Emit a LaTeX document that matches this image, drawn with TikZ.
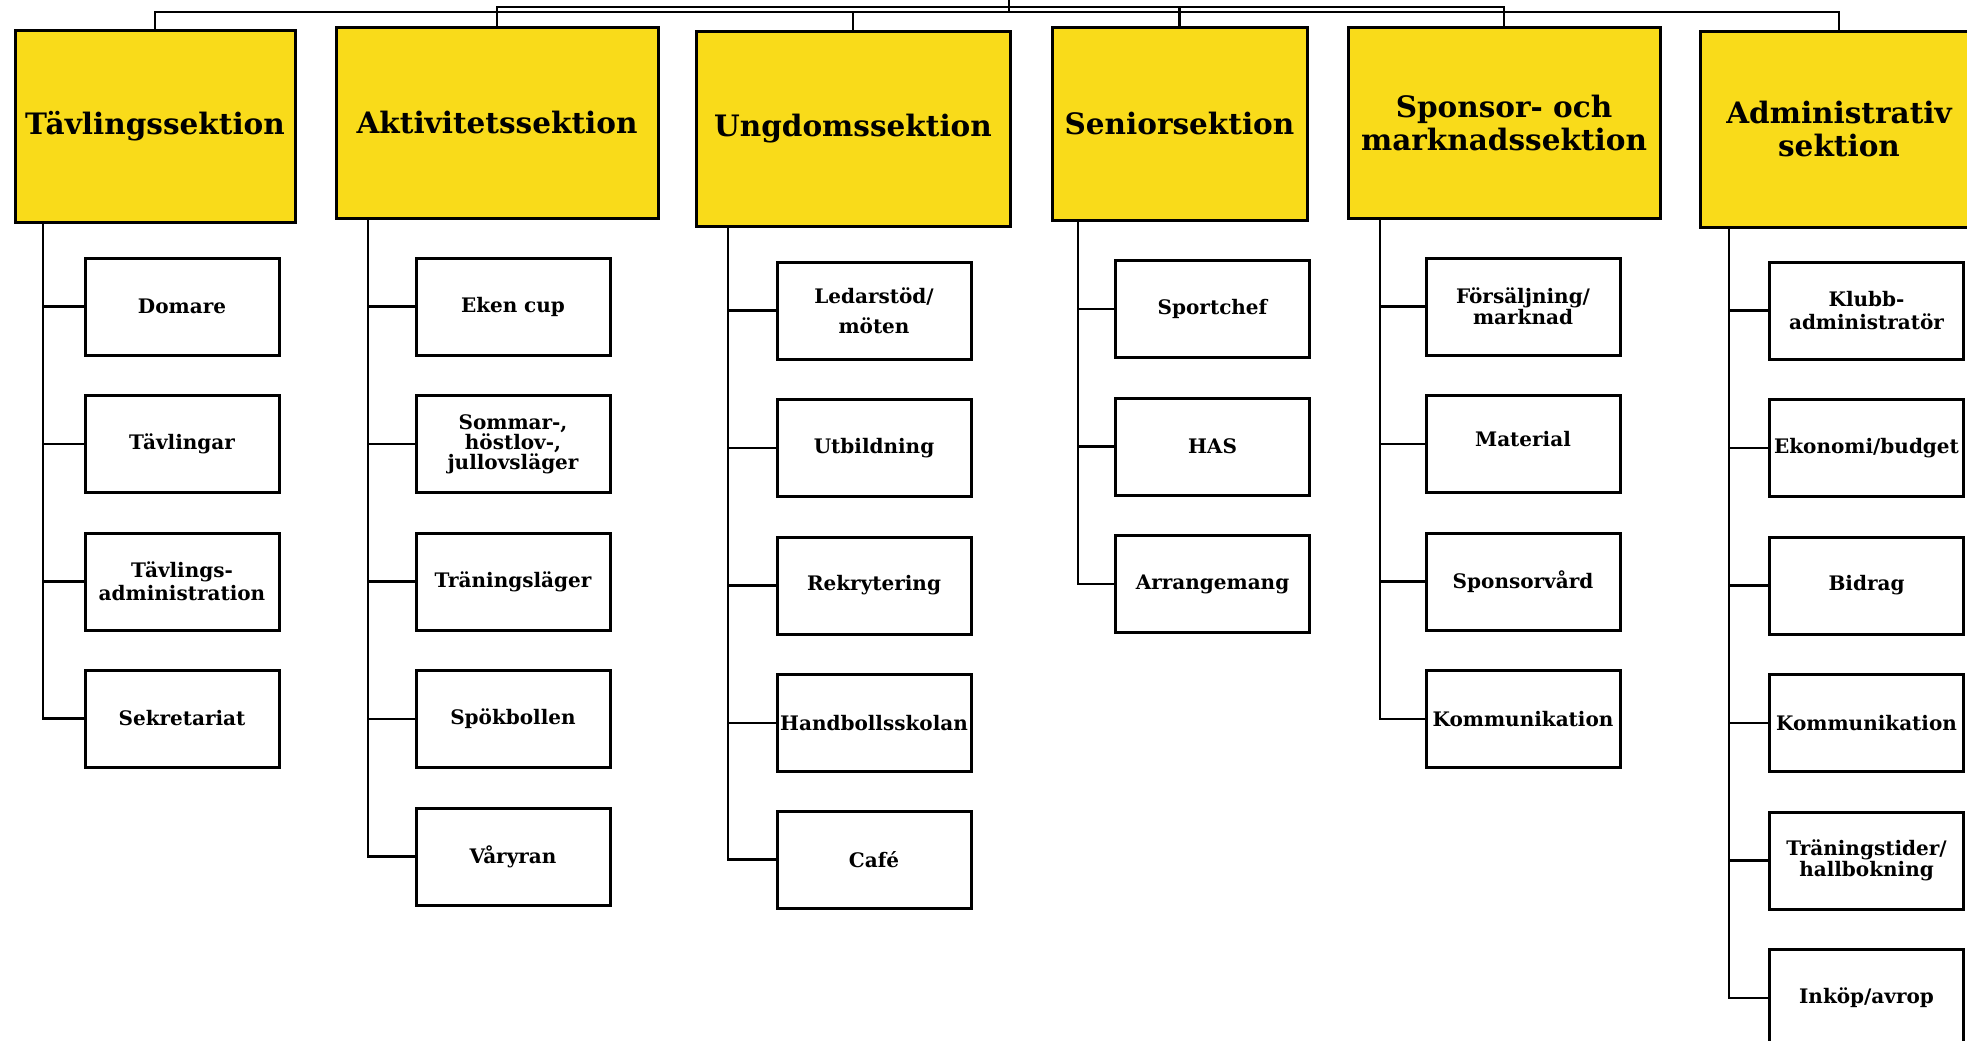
\documentclass[tikz,border=0pt]{standalone}
\usepackage{fontspec}
\setmainfont{DejaVu Serif}
\definecolor{hdryellow}{HTML}{F9DB1A}
\begin{document}
\begin{tikzpicture}[x=1pt,y=-1pt,
  hdr/.style={draw=black, fill=hdryellow, line width=3pt, inner sep=0pt, align=center,
    font=\fontsize{29.5}{33}\selectfont\bfseries},
  child/.style={draw=black, line width=3pt, inner sep=0pt, align=center,
    minimum width=194pt, minimum height=97pt, text width=192pt,
    font=\fontsize{20}{22}\selectfont\bfseries},
  conn/.style={draw=black, line width=2.8pt}]
\useasboundingbox (0,0) rectangle (1967,1041);

% headers
\node[hdr, minimum width=280pt, minimum height=191pt] (h1) at (155,126.5) {Tävlingssektion};
\node[hdr, minimum width=322pt, minimum height=190pt] (h2) at (497,123) {Aktivitetssektion};
\node[hdr, minimum width=314pt, minimum height=194pt] (h3) at (853,129) {Ungdomssektion};
\node[hdr, minimum width=255pt, minimum height=192pt] (h4) at (1179.5,124) {Seniorsektion};
\node[hdr, minimum width=312pt, minimum height=190pt] (h5) at (1504,123) {Sponsor- och\\marknadssektion};
\node[hdr, minimum width=278pt, minimum height=195pt] (h6) at (1839,129.5) {Administrativ\\sektion};

% top buses
\coordinate (root) at (1009,0);
\coordinate (busA) at (1009,7);
\coordinate (busB) at (1009,12);
\draw[conn] (root) -- (busB);
\draw[conn] (h2.north) |- (busA);
\draw[conn] (h4.north) |- (busA);
\draw[conn] (h5.north) |- (busA);
\draw[conn] (h1.north) |- (busB);
\draw[conn] (h3.north) |- (busB);
\draw[conn] (h6.north) |- (busB);

% column 1
\node[child] (c11) at (182,306.5) {Domare};
\node[child] (c12) at (182,444) {Tävlingar};
\node[child, font=\fontsize{20}{22.5}\selectfont\bfseries] (c13) at (182,581.5) {Tävlings-\\administration};
\node[child] (c14) at (182,718.5) {Sekretariat};
\coordinate (s1) at (43,222);
\draw[conn] (s1) |- (c14.west);
\foreach \n in {c11,c12,c13} \draw[conn] (\n.west) -- (\n.west -| s1);

% column 2
\node[child] (c21) at (513,306.5) {Eken cup};
\node[child, font=\fontsize{20}{19}\selectfont\bfseries] (c22) at (513,444) {Sommar-,\\höstlov-,\\jullovsläger};
\node[child] (c23) at (513,581.5) {Träningsläger};
\node[child] (c24) at (513,719) {Spökbollen};
\node[child] (c25) at (513,856.5) {Våryran};
\coordinate (s2) at (368,218);
\draw[conn] (s2) |- (c25.west);
\foreach \n in {c21,c22,c23,c24} \draw[conn] (\n.west) -- (\n.west -| s2);

% column 3
\node[child, font=\fontsize{20}{30}\selectfont\bfseries] (c31) at (874,310.5) {Ledarstöd/\\möten};
\node[child] (c32) at (874,448) {Utbildning};
\node[child] (c33) at (874,585.5) {Rekrytering};
\node[child] (c34) at (874,723) {Handbollsskolan};
\node[child] (c35) at (874,859.5) {Café};
\coordinate (s3) at (728,226);
\draw[conn] (s3) |- (c35.west);
\foreach \n in {c31,c32,c33,c34} \draw[conn] (\n.west) -- (\n.west -| s3);

% column 4
\node[child] (c41) at (1212.5,309) {Sportchef};
\node[child] (c42) at (1212.5,446.5) {HAS};
\node[child] (c43) at (1212.5,584) {Arrangemang};
\coordinate (s4) at (1078,220);
\draw[conn] (s4) |- (c43.west);
\foreach \n in {c41,c42} \draw[conn] (\n.west) -- (\n.west -| s4);

% column 5
\node[child, font=\fontsize{20}{21}\selectfont\bfseries] (c51) at (1523,306.5) {Försäljning/\\marknad};
\node[child] (c52) at (1523,444) {\raisebox{10pt}{Material}};
\node[child] (c53) at (1523,581.5) {Sponsorvård};
\node[child] (c54) at (1523,719) {Kommunikation};
\coordinate (s5) at (1380,218);
\draw[conn] (s5) |- (c54.west);
\foreach \n in {c51,c52,c53} \draw[conn] (\n.west) -- (\n.west -| s5);

% column 6
\node[child, font=\fontsize{20}{22.5}\selectfont\bfseries] (c61) at (1866.5,310.5) {Klubb-\\administratör};
\node[child] (c62) at (1866.5,448) {Ekonomi/budget};
\node[child] (c63) at (1866.5,585.5) {Bidrag};
\node[child] (c64) at (1866.5,723) {Kommunikation};
\node[child, font=\fontsize{20}{21.5}\selectfont\bfseries] (c65) at (1866.5,860.5) {Träningstider/\\hallbokning};
\node[child] (c66) at (1866.5,998) {Inköp/avrop};
\coordinate (s6) at (1729,227);
\draw[conn] (s6) |- (c66.west);
\foreach \n in {c61,c62,c63,c64,c65} \draw[conn] (\n.west) -- (\n.west -| s6);
\end{tikzpicture}
\end{document}
